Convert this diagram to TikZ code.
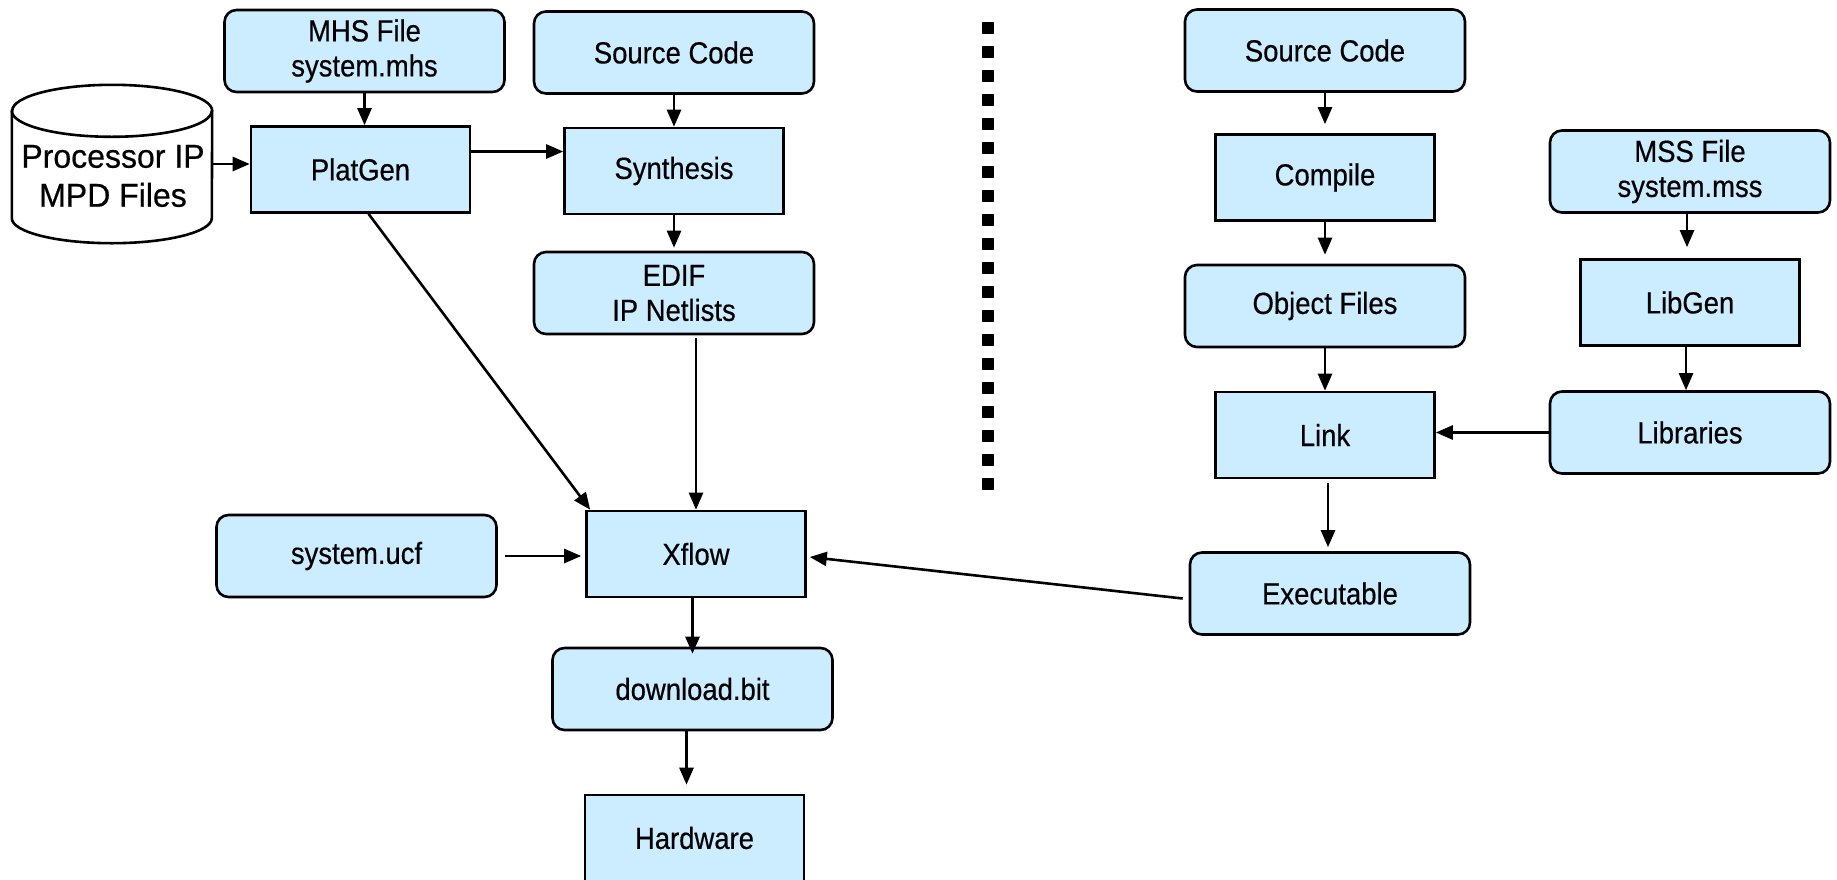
\documentclass[tikz,border=0pt]{standalone}
\usepackage{fontspec}
\setmainfont{Liberation Sans}[FakeStretch=0.9, FakeBold=0.5]
\newfontfamily\cylfont{Liberation Sans}[FakeStretch=0.97, FakeBold=0.5]
\usetikzlibrary{arrows.meta,calc}
\definecolor{boxfill}{HTML}{CCECFF}
\tikzset{
  box/.style={draw=black, fill=boxfill, line width=2.6pt, align=center, inner sep=0pt,
              font=\fontsize{30.5}{35}\selectfont},
  widebox/.style={box, rounded corners=12pt, minimum width=280pt, minimum height=82pt},
  stepbox/.style={box, minimum width=219pt, minimum height=86pt},
  arr/.style={line width=2.6pt, -{Triangle[length=17pt,width=14pt]}},
  plain/.style={line width=2.6pt},
  sep/.style={line width=12pt, dash pattern=on 12pt off 12pt}
}
\begin{document}
\begin{tikzpicture}[x=1pt,y=1pt]
\path[use as bounding box, fill=white] (0,0) rectangle (1837,-879);
\clip (0,0) rectangle (1837,-879);

% left half
\node[widebox] (mhs) at (364.5,-51) {MHS File\\system.mhs};
\node[widebox] (src1) at (674,-52.5) {Source Code};
\node[stepbox] (platgen) at (360.5,-169.5) {PlatGen};
\node[stepbox] (synth) at (674,-171) {Synthesis};
\node[widebox] (edif) at (674,-293) {EDIF\\IP Netlists};
\node[stepbox] (xflow) at (696,-554) {Xflow};
\node[widebox] (ucf) at (356.5,-556) {system.ucf};
\node[widebox] (dl) at (692.5,-689) {download.bit};
\node[stepbox] (hw) at (694.5,-838) {Hardware};

% cylinder
\node[minimum width=200pt, minimum height=158pt, inner sep=0pt] (cylbody) at (112,-164) {};
\draw[plain, fill=white] ([yshift=-26pt]cylbody.north west) -- ([yshift=25pt]cylbody.south west)
  arc[start angle=180, end angle=360, x radius=100pt, y radius=25pt]
  -- ([yshift=-26pt]cylbody.north east)
  arc[start angle=0, end angle=180, x radius=100pt, y radius=26pt] -- cycle;
\draw[plain] ([yshift=-26pt]cylbody.north west)
  arc[start angle=180, end angle=360, x radius=100pt, y radius=26pt];
\node[align=center, inner sep=0pt, font=\cylfont\fontsize{33}{39}\selectfont] (cyltext) at (113,-176) {Processor IP\\MPD Files};

% right half
\node[widebox] (src2) at (1325,-50.5) {Source Code};
\node[stepbox] (compile) at (1325,-177.5) {Compile};
\node[widebox] (obj) at (1325,-306) {Object Files};
\node[stepbox] (link) at (1325,-435) {Link};
\node[widebox] (mss) at (1690,-171.5) {MSS File\\system.mss};
\node[stepbox] (libgen) at (1690,-302.5) {LibGen};
\node[widebox] (libs) at (1690,-432.5) {Libraries};
\node[widebox] (exe) at (1330,-593.5) {Executable};

% separator
\coordinate (septop) at (988,-22);
\coordinate (sepbot) at (988,-490);
\draw[sep] (septop) -- (sepbot);

% connectors, left
\draw[arr] (mhs.south) -- (mhs.south |- platgen.north);
\draw[arr] (cylbody.east) -- (cylbody.east -| platgen.west);
\draw[arr] ([yshift=18pt]platgen.east) -- ([yshift=18pt]platgen.east -| synth.west);
\draw[arr] (src1.south) -- (synth.north);
\draw[arr, shorten >=3pt] (synth.south) -- (edif.north);
\draw[arr, shorten <=3pt] (edif.south -| xflow.north) -- (xflow.north);
\draw[arr] ([xshift=8pt]platgen.south) -- ([xshift=5pt]xflow.north west);
\draw[arr, shorten <=7pt, shorten >=4pt] (ucf.east) -- (ucf.east -| xflow.west);
\draw[arr] ([xshift=-6pt,yshift=-5pt]exe.west) -- ([xshift=3pt,yshift=-3pt]xflow.east);
\draw[arr] (xflow.south -| dl.north) -- ([yshift=-7pt]dl.north);
\draw[arr, shorten >=9pt] ([xshift=-6pt]dl.south) -- ([xshift=-6pt]dl.south |- hw.north);

% connectors, right
\draw[arr, shorten >=9pt] (src2.south) -- (compile.north);
\draw[arr, shorten >=9pt] (compile.south) -- (obj.north);
\draw[arr] (obj.south) -- (link.north);
\draw[arr, shorten <=4pt, shorten >=4pt] ([xshift=3pt]link.south) -- ([xshift=3pt]link.south |- exe.north);
\draw[arr, shorten >=11pt] ([xshift=-3pt]mss.south) -- ([xshift=-3pt]mss.south |- libgen.north);
\draw[arr] ([xshift=-4pt]libgen.south) -- ([xshift=-4pt]libgen.south |- libs.north);
\draw[arr] (libs.west) -- (libs.west -| link.east);
\end{tikzpicture}
\end{document}
